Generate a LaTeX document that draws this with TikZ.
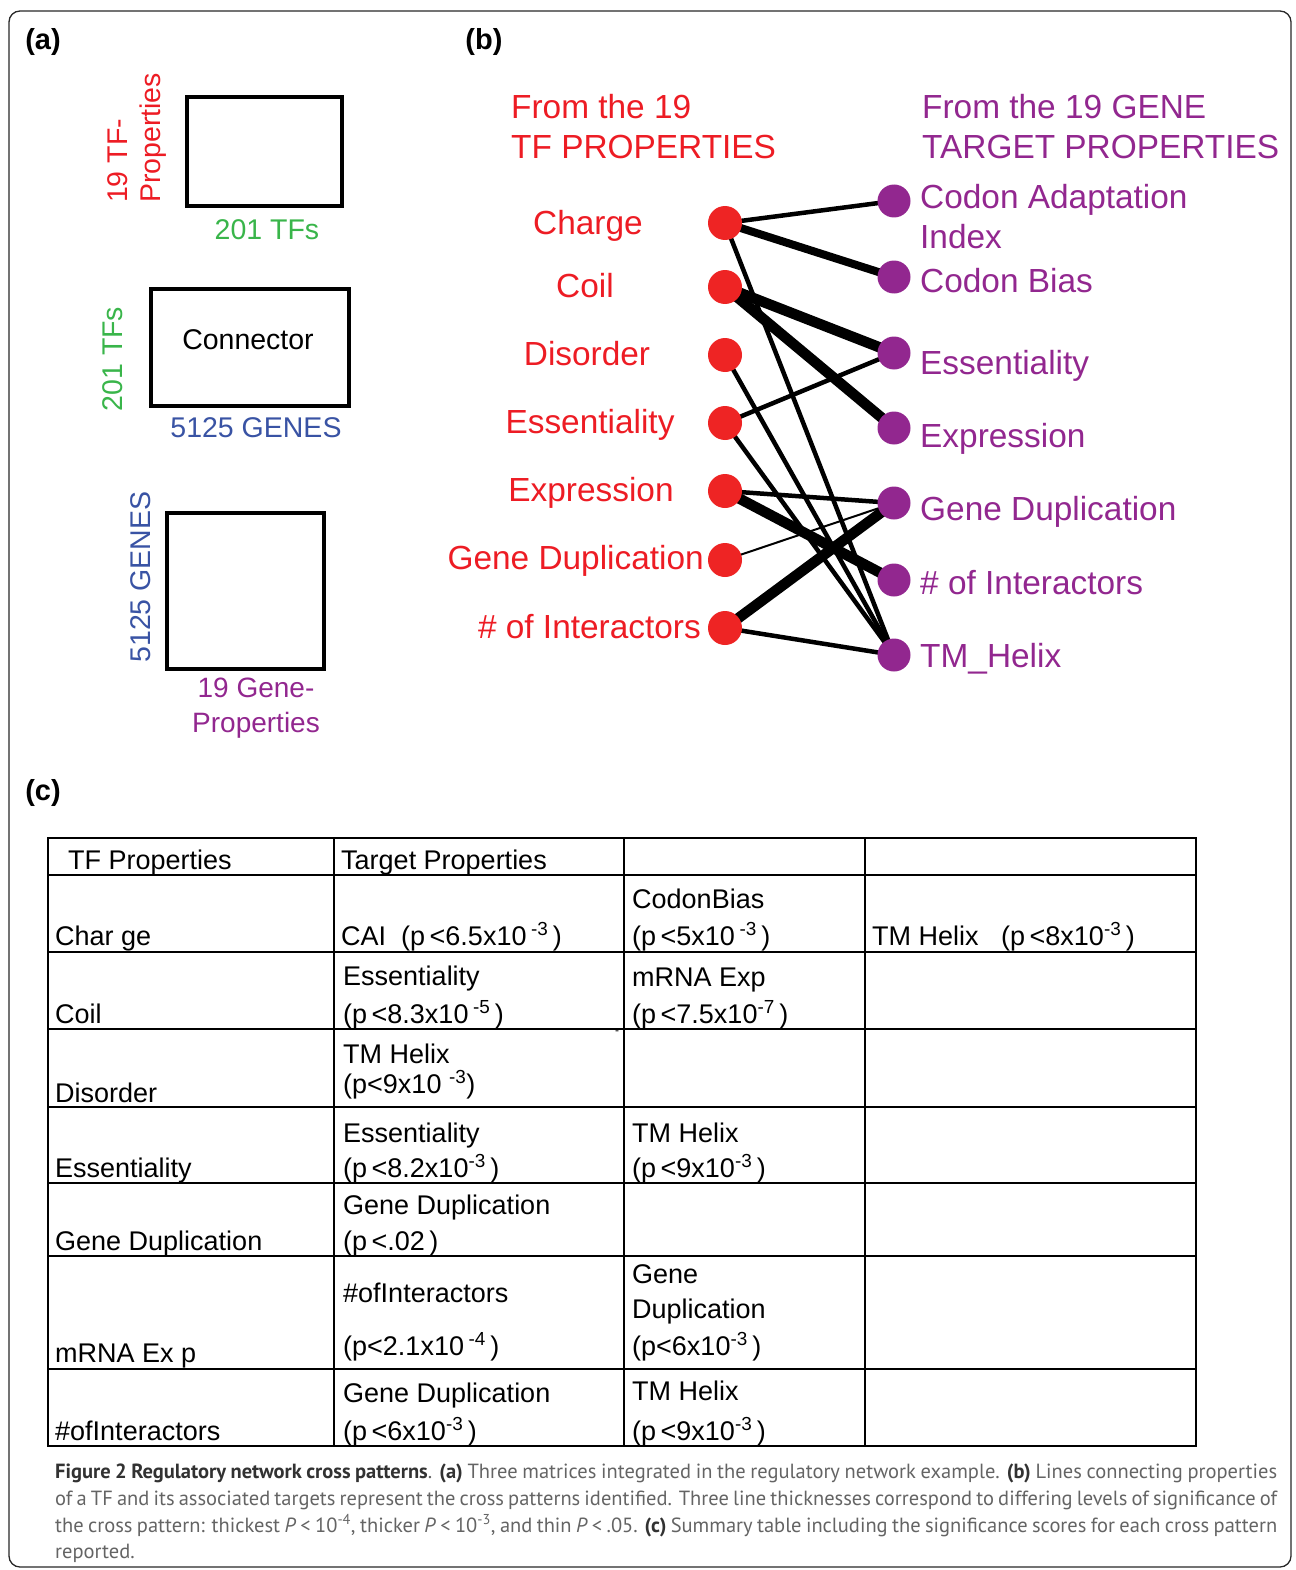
\documentclass[tikz,border=0pt]{standalone}
\usepackage{fontspec}
\setmainfont{Liberation Sans}
\newfontfamily\capfont{PT Sans}
\usetikzlibrary{backgrounds}
\definecolor{tfred}{RGB}{237,28,36}
\definecolor{tfgreen}{RGB}{57,181,74}
\definecolor{geneblue}{RGB}{57,83,164}
\definecolor{gpurple}{RGB}{146,39,143}
\definecolor{nodered}{RGB}{238,36,36}
\definecolor{capbold}{RGB}{50,50,50}
\definecolor{captext}{RGB}{100,100,100}
\definecolor{framecol}{RGB}{40,40,40}
\begin{document}
\begin{tikzpicture}[x=1pt,y=-1pt,
  plabel/.style={font=\fontsize{29}{34}\selectfont\bfseries, inner sep=0},
  albl/.style={font=\fontsize{28.5}{33}\selectfont, inner sep=0},
  blbl/.style={font=\fontsize{33.4}{40}\selectfont, inner sep=0},
  tbl/.style={font=\fontsize{27}{32}\selectfont, inner sep=0, anchor=base west},
  captionline/.style={font=\capfont\fontsize{20.5}{27}\selectfont, text=captext, inner sep=0, anchor=base west},
  matbox/.style={draw, line width=4pt, inner sep=0},
  tfnode/.style={circle, fill=nodered, minimum size=34pt, inner sep=0},
  gnode/.style={circle, fill=gpurple, minimum size=33pt, inner sep=0},
  thinline/.style={line width=2pt},
  medline/.style={line width=4.5pt},
  thickline/.style={line width=8pt},
  thickestline/.style={line width=10.5pt},
  tblline/.style={line width=2.5pt}
]
\useasboundingbox (0,0) rectangle (1295,1570);
\draw[framecol, line width=1.3pt, rounded corners=11pt] (9,11) rectangle (1291,1567);

% panel labels
\node[plabel] (pa) at (43,42) {(a)};
\node[plabel] (pb) at (484,42) {(b)};
\node[plabel] (pc) at (43,793) {(c)};

% ---------- panel (a)
\node[matbox, minimum width=155pt, minimum height=109pt] (m1) at (264.5,151.5) {};
\node[albl, text=tfred, rotate=90, align=left] (m1l) at (137,138) {19 TF-\\Properties};
\node[albl, text=tfgreen] (m1b) at (267,230) {201 TFs};

\node[matbox, minimum width=198pt, minimum height=117pt] (m2) at (250,347.5) {};
\node[albl] (m2t) at (248,340) {Connector};
\node[albl, text=tfgreen, rotate=90] (m2l) at (113,359) {201 TFs};
\node[albl, text=geneblue] (m2b) at (256,428) {5125 GENES};

\node[matbox, minimum width=157pt, minimum height=156pt] (m3) at (245.5,591) {};
\node[albl, text=geneblue, rotate=90] (m3l) at (141,577) {5125 GENES};
\node[albl, text=gpurple, align=center, font=\fontsize{28}{35}\selectfont] (m3b) at (256,708) {19 Gene-\\Properties};

% ---------- panel (b)
\node[blbl, text=tfred, anchor=mid west] (h1) at (511,116) {From the 19};
\node[blbl, text=tfred, anchor=mid west] (h2) at (511,156) {TF PROPERTIES};
\node[blbl, text=gpurple, anchor=mid west] (h3) at (922,116) {From the 19 GENE};
\node[blbl, text=gpurple, anchor=mid west] (h4) at (922,156) {TARGET PROPERTIES};

\node[tfnode] (L1) at (725,223) {};
\node[tfnode] (L2) at (725,287) {};
\node[tfnode] (L3) at (725,355) {};
\node[tfnode] (L4) at (725,423) {};
\node[tfnode] (L5) at (725,491) {};
\node[tfnode] (L6) at (725,560) {};
\node[tfnode] (L7) at (725,628) {};

\node[gnode] (R1) at (894,201) {};
\node[gnode] (R2) at (894,277) {};
\node[gnode] (R3) at (894,353) {};
\node[gnode] (R4) at (894,428) {};
\node[gnode] (R5) at (894,503) {};
\node[gnode] (R6) at (894,580) {};
\node[gnode] (R7) at (894,655) {};

\node[blbl, text=tfred, anchor=mid] (l1) at (588,232) {Charge};
\node[blbl, text=tfred, anchor=mid] (l2) at (585,295) {Coil};
\node[blbl, text=tfred, anchor=mid] (l3) at (587,363) {Disorder};
\node[blbl, text=tfred, anchor=mid] (l4) at (590,431) {Essentiality};
\node[blbl, text=tfred, anchor=mid] (l5) at (591,499) {Expression};
\node[blbl, text=tfred, anchor=mid east] (l6) at (704,567) {Gene Duplication};
\node[blbl, text=tfred, anchor=mid east] (l7) at (701,636) {\# of Interactors};

\node[blbl, text=gpurple, anchor=mid west] (r1a) at (920,206) {Codon Adaptation};
\node[blbl, text=gpurple, anchor=mid west] (r1b) at (920,246) {Index};
\node[blbl, text=gpurple, anchor=mid west] (r2) at (920,290) {Codon Bias};
\node[blbl, text=gpurple, anchor=mid west] (r3) at (920,372) {Essentiality};
\node[blbl, text=gpurple, anchor=mid west] (r4) at (920,445) {Expression};
\node[blbl, text=gpurple, anchor=mid west] (r5) at (920,518) {Gene Duplication};
\node[blbl, text=gpurple, anchor=mid west] (r6) at (920,592) {\# of Interactors};
\node[blbl, text=gpurple, anchor=mid west] (r7) at (920,665) {TM\_Helix};

\begin{scope}[on background layer]
\draw[medline] (L1.center) -- (R1.center);
\draw[thickline] (L1.center) -- (R2.center);
\draw[medline] (L1.center) -- (R7.center);
\draw[thickestline] (L2.center) -- (R3.center);
\draw[thickestline] (L2.center) -- (R4.center);
\draw[medline] (L3.center) -- (R7.center);
\draw[medline] (L4.center) -- (R3.center);
\draw[medline] (L4.center) -- (R7.center);
\draw[medline] (L5.center) -- (R5.center);
\draw[thickestline] (L5.center) -- (R6.center);
\draw[thinline] (L6.center) -- (R5.center);
\draw[thickestline] (L7.center) -- (R5.center);
\draw[medline] (L7.center) -- (R7.center);
\end{scope}

% ---------- panel (c) table
\draw[tblline] (48,838) rectangle (1196,1446);
\foreach \yy in {875,952,1029,1107,1183,1256,1369}
  \draw[tblline] (48,\yy) -- (1196,\yy);
\foreach \xx in {334,624,865}
  \draw[tblline] (\xx,838) -- (\xx,1446);

\node[tbl] (c01) at (68,869) {TF Properties};
\node[tbl] (c02) at (341,869) {Target Properties};

\node[tbl] (c11) at (55,945) {Char ge};
\node[tbl] (c12) at (341,945) {CAI\ \ (p\,<6.5x10\,\textsuperscript{-3}\,)};
\node[tbl] (c13a) at (632,908) {CodonBias};
\node[tbl] (c13b) at (632,945) {(p\,<5x10\,\textsuperscript{-3}\,)};
\node[tbl] (c14) at (872,945) {TM Helix\ \ \ (p\,<8x10\textsuperscript{-3}\,)};

\node[tbl] (c21) at (55,1023) {Coil};
\node[tbl] (c22a) at (343,985) {Essentiality};
\node[tbl] (c22b) at (343,1023) {(p\,<8.3x10\,\textsuperscript{-5}\,)};
\node[tbl] (c23a) at (632,986) {mRNA Exp};
\node[tbl] (c23b) at (632,1023) {(p\,<7.5x10\textsuperscript{-7}\,)};
\node[tbl, font=\fontsize{12}{14}\selectfont] (dash) at (615,1034) {-};

\node[tbl] (c31) at (55,1102) {Disorder};
\node[tbl] (c32a) at (343,1063) {TM Helix};
\node[tbl] (c32b) at (343,1093) {(p<9x10 \textsuperscript{-3})};

\node[tbl] (c41) at (55,1177) {Essentiality};
\node[tbl] (c42a) at (343,1142) {Essentiality};
\node[tbl] (c42b) at (343,1177) {(p\,<8.2x10\textsuperscript{-3}\,)};
\node[tbl] (c43a) at (632,1142) {TM Helix};
\node[tbl] (c43b) at (632,1177) {(p\,<9x10\textsuperscript{-3}\,)};

\node[tbl] (c51) at (55,1250) {Gene Duplication};
\node[tbl] (c52a) at (343,1214) {Gene Duplication};
\node[tbl] (c52b) at (343,1250) {(p\,<.02\,)};

\node[tbl] (c61) at (55,1362) {mRNA Ex p};
\node[tbl] (c62a) at (343,1302) {\#ofInteractors};
\node[tbl] (c62b) at (343,1355) {(p<2.1x10\,\textsuperscript{-4}\,)};
\node[tbl] (c63a) at (632,1283) {Gene};
\node[tbl] (c63b) at (632,1318) {Duplication};
\node[tbl] (c63c) at (632,1355) {(p<6x10\textsuperscript{-3}\,)};

\node[tbl] (c71) at (55,1440) {\#ofInteractors};
\node[tbl] (c72a) at (343,1402) {Gene Duplication};
\node[tbl] (c72b) at (343,1440) {(p\,<6x10\textsuperscript{-3}\,)};
\node[tbl] (c73a) at (632,1400) {TM Helix};
\node[tbl] (c73b) at (632,1440) {(p\,<9x10\textsuperscript{-3}\,)};

% ---------- caption
\node[captionline] (cap1) at (55,1478) {\makebox[1222pt][s]{{\color{capbold}\bfseries Figure 2 Regulatory network cross patterns}. {\color{capbold}\bfseries (a)} Three matrices integrated in the regulatory network example. {\color{capbold}\bfseries (b)} Lines connecting properties}};
\node[captionline] (cap2) at (55,1505) {\makebox[1222pt][s]{of a TF and its associated targets represent the cross patterns identified. Three line thicknesses correspond to differing levels of significance of}};
\node[captionline] (cap3) at (55,1532) {\makebox[1222pt][s]{the cross pattern: thickest \textit{P} < 10\textsuperscript{-4}, thicker \textit{P} < 10\textsuperscript{-3}, and thin \textit{P} < .05. {\color{capbold}\bfseries (c)} Summary table including the significance scores for each cross pattern}};
\node[captionline] (cap4) at (55,1558) {reported.};
\end{tikzpicture}
\end{document}
